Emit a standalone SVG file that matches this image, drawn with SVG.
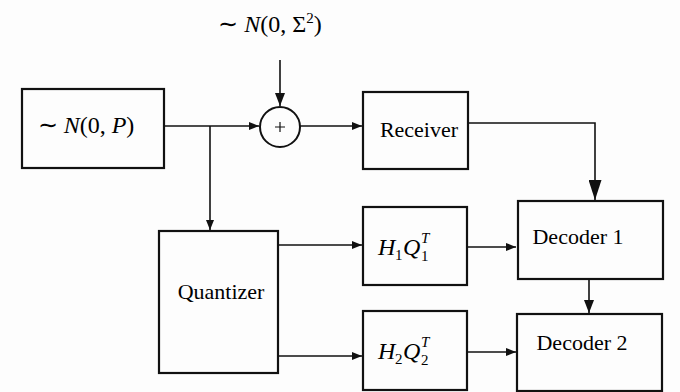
<svg xmlns="http://www.w3.org/2000/svg" width="680" height="392" viewBox="0 0 680 392">
<defs>
<marker id="a" viewBox="0 0 10 8" refX="10" refY="4" markerWidth="10" markerHeight="8" markerUnits="userSpaceOnUse" orient="auto"><path d="M0,0 L10,4 L0,8 z" fill="#111"/></marker>
<marker id="b" viewBox="0 0 20 13" refX="20" refY="6.5" markerWidth="20" markerHeight="13" markerUnits="userSpaceOnUse" orient="auto"><path d="M0,0 L20,6.5 L0,13 z" fill="#111"/></marker>
<marker id="c" viewBox="0 0 13 10" refX="13" refY="5" markerWidth="13" markerHeight="10" markerUnits="userSpaceOnUse" orient="auto"><path d="M0,0 L13,5 L0,10 z" fill="#111"/></marker>
</defs>
<rect width="680" height="392" fill="#fdfdfd"/>
<g id="noise-label">
<text font-family="Times New Roman" font-size="24" x="270" y="32" text-anchor="middle">∼ <tspan font-style="italic">N</tspan>(0, Σ<tspan font-size="15" dy="-9">2</tspan><tspan dy="9">)</tspan></text>
</g>
<g id="source">
<rect x="22" y="89" width="142" height="79" fill="none" stroke="#111" stroke-width="2.2"/>
<text font-family="Times New Roman" font-size="24" x="86" y="133" text-anchor="middle">∼ <tspan font-style="italic">N</tspan>(0, <tspan font-style="italic">P</tspan>)</text>
</g>
<g id="adder">
<circle cx="280" cy="127" r="20" fill="none" stroke="#111" stroke-width="2"/>
<path d="M275,127 H285 M280,122 V132" fill="none" stroke="#111" stroke-width="1.2"/>
</g>
<g id="receiver">
<rect x="363" y="92" width="105" height="77" fill="none" stroke="#111" stroke-width="2.2"/>
<text font-family="Times New Roman" font-size="22" x="419" y="137" text-anchor="middle">Receiver</text>
</g>
<g id="quantizer">
<rect x="159" y="231" width="119" height="142" fill="none" stroke="#111" stroke-width="2.2"/>
<text font-family="Times New Roman" font-size="22" x="221" y="299" text-anchor="middle">Quantizer</text>
</g>
<g id="h1q1">
<rect x="363" y="207" width="104" height="78" fill="none" stroke="#111" stroke-width="2.2"/>
<text font-family="Times New Roman" font-size="24"><tspan font-style="italic" x="378" y="255">H</tspan><tspan font-size="15" x="395" y="260">1</tspan><tspan font-style="italic" x="403" y="255">Q</tspan><tspan font-size="15" x="421" y="261">1</tspan><tspan font-size="15" font-style="italic" x="421" y="243">T</tspan></text>
</g>
<g id="h2q2">
<rect x="363" y="311" width="104" height="79" fill="none" stroke="#111" stroke-width="2.2"/>
<text font-family="Times New Roman" font-size="24"><tspan font-style="italic" x="378" y="359">H</tspan><tspan font-size="15" x="395" y="364">2</tspan><tspan font-style="italic" x="403" y="359">Q</tspan><tspan font-size="15" x="421" y="365">2</tspan><tspan font-size="15" font-style="italic" x="421" y="347">T</tspan></text>
</g>
<g id="decoder1">
<rect x="518" y="201" width="145" height="78" fill="none" stroke="#111" stroke-width="2.2"/>
<text font-family="Times New Roman" font-size="22" x="578" y="244" text-anchor="middle">Decoder 1</text>
</g>
<g id="decoder2">
<rect x="517" y="314" width="145" height="77" fill="none" stroke="#111" stroke-width="2.2"/>
<text font-family="Times New Roman" font-size="22" x="582" y="350" text-anchor="middle">Decoder 2</text>
</g>
<g id="connectors" fill="none" stroke="#111" stroke-width="1.6">
<path d="M280,60 V106" marker-end="url(#c)"/>
<path d="M164,126 H259" marker-end="url(#a)"/>
<path d="M210,126 V230" marker-end="url(#a)"/>
<path d="M300,126 H362" marker-end="url(#a)"/>
<path d="M468,123 H595 V200" marker-end="url(#b)"/>
<path d="M278,245 H362" marker-end="url(#a)"/>
<path d="M278,356 H362" marker-end="url(#a)"/>
<path d="M467,247 H516" marker-end="url(#a)"/>
<path d="M467,352 H516" marker-end="url(#a)"/>
<path d="M589,279 V313" marker-end="url(#c)"/>
</g>
</svg>
